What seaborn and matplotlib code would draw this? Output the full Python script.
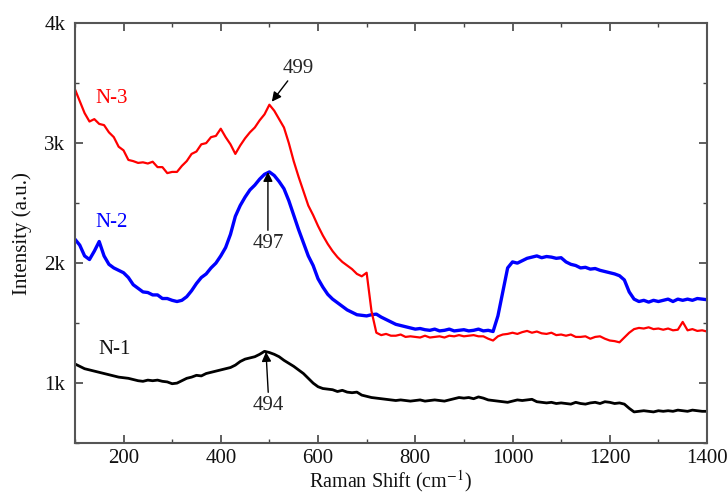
import numpy as np
import pandas as pd
import matplotlib
matplotlib.use("Agg")
import matplotlib.pyplot as plt
import seaborn as sns

# ---------------- data ----------------
raman_shift = list(range(100, 1401, 10))

n3_intensity = [
    3450, 3350, 3250, 3180, 3200, 3160, 3150, 3090, 3050, 2970,   # 100-190
    2940, 2860, 2850, 2835, 2840, 2830, 2845, 2800, 2800, 2750,   # 200-290
    2760, 2760, 2810, 2850, 2910, 2930, 2990, 3000, 3050, 3060,   # 300-390
    3120, 3050, 2990, 2910, 2980, 3040, 3090, 3130, 3190, 3240,   # 400-490
    3320, 3270, 3200, 3130, 3000, 2850, 2720, 2600, 2480, 2400,   # 500-590
    2310, 2230, 2160, 2100, 2050, 2010, 1980, 1950, 1910, 1890,   # 600-690
    1920, 1600, 1420, 1400, 1410, 1395, 1395, 1405, 1385, 1390,   # 700-790
    1385, 1380, 1395, 1380, 1385, 1390, 1380, 1395, 1390, 1400,   # 800-890
    1390, 1395, 1400, 1390, 1390, 1370, 1355, 1390, 1405, 1410,   # 900-990
    1420, 1410, 1425, 1435, 1420, 1430, 1415, 1410, 1420, 1400,   # 1000-1090
    1405, 1395, 1405, 1385, 1385, 1390, 1370, 1385, 1390, 1370,   # 1100-1190
    1355, 1350, 1340, 1380, 1420, 1450, 1460, 1455, 1465, 1450,   # 1200-1290
    1455, 1445, 1455, 1440, 1445, 1510, 1440, 1450, 1435, 1440,   # 1300-1390
    1430,                                                         # 1400
]

n2_intensity = [
    2200, 2150, 2060, 2030, 2100, 2180, 2060, 1990, 1960, 1940,   # 100-190
    1920, 1880, 1820, 1790, 1760, 1755, 1735, 1735, 1705, 1705,   # 200-290
    1690, 1680, 1690, 1720, 1770, 1830, 1880, 1910, 1960, 2000,   # 300-390
    2060, 2130, 2240, 2390, 2480, 2550, 2610, 2650, 2700, 2740,   # 400-490
    2760, 2730, 2680, 2620, 2520, 2400, 2280, 2170, 2060, 1980,   # 500-590
    1870, 1800, 1740, 1700, 1670, 1640, 1610, 1590, 1570, 1565,   # 600-690
    1560, 1570, 1575, 1550, 1530, 1510, 1490, 1480, 1470, 1460,   # 700-790
    1450, 1455, 1445, 1440, 1450, 1435, 1440, 1450, 1435, 1440,   # 800-890
    1445, 1435, 1440, 1450, 1435, 1440, 1430, 1560, 1760, 1960,   # 900-990
    2010, 2000, 2020, 2040, 2050, 2060, 2045, 2055, 2050, 2040,   # 1000-1090
    2045, 2010, 1990, 1980, 1960, 1965, 1950, 1955, 1940, 1930,   # 1100-1190
    1920, 1910, 1895, 1860, 1760, 1700, 1680, 1690, 1675, 1690,   # 1200-1290
    1680, 1690, 1700, 1680, 1700, 1690, 1700, 1690, 1705, 1700,   # 1300-1390
    1695,                                                         # 1400
]

n1_intensity = [
    1160, 1140, 1120, 1110, 1100, 1090, 1080, 1070, 1060, 1050,   # 100-190
    1045, 1040, 1030, 1020, 1015, 1025, 1020, 1025, 1015, 1010,   # 200-290
    995, 1000, 1020, 1040, 1050, 1065, 1060, 1080, 1090, 1100,    # 300-390
    1110, 1120, 1130, 1150, 1180, 1200, 1210, 1220, 1240, 1265,   # 400-490
    1255, 1240, 1220, 1190, 1165, 1140, 1110, 1080, 1040, 1000,   # 500-590
    970, 955, 950, 945, 930, 940, 925, 920, 925, 900,             # 600-690
    890, 880, 875, 870, 865, 860, 855, 860, 855, 850,             # 700-790
    855, 860, 850, 855, 860, 855, 850, 860, 870, 880,             # 800-890
    875, 880, 870, 885, 875, 860, 855, 850, 845, 840,             # 900-990
    850, 860, 855, 860, 865, 845, 840, 835, 840, 830,             # 1000-1090
    835, 830, 825, 840, 830, 825, 835, 840, 830, 845,             # 1100-1190
    840, 830, 835, 825, 790, 760, 765, 770, 765, 760,             # 1200-1290
    770, 765, 770, 765, 775, 770, 765, 775, 770, 765,             # 1300-1390
    765,                                                          # 1400
]

series_names = ["N-1", "N-2", "N-3"]
series_colors = {"N-1": "#000000", "N-2": "#0000ff", "N-3": "#ff0000"}

x_ticks = [200, 400, 600, 800, 1000, 1200, 1400]
y_ticks = [1000, 2000, 3000, 4000]
y_tick_labels = ["1k", "2k", "3k", "4k"]

# ---------------- plotting ----------------
sns.set_theme(style="ticks")
plt.rcParams["font.family"] = ["Liberation Serif", "DejaVu Serif"]
plt.rcParams["mathtext.fontset"] = "stix"

fig = plt.figure(figsize=(7.27, 4.94), dpi=100)
ax = fig.add_axes([0.103, 0.103, 0.8695, 0.8502])

df = pd.DataFrame({
    "shift": raman_shift * 3,
    "intensity": n1_intensity + n2_intensity + n3_intensity,
    "sample": ["N-1"] * len(raman_shift) + ["N-2"] * len(raman_shift) + ["N-3"] * len(raman_shift),
})

widths = {"N-1": 2.0, "N-2": 2.4, "N-3": 1.6}
for name in series_names:
    sub = df[df["sample"] == name]
    sns.lineplot(data=sub, x="shift", y="intensity", ax=ax, color=series_colors[name],
                 linewidth=widths[name], legend=False)

ax.set_xlim(100, 1400)
ax.set_ylim(500, 4000)
ax.set_xticks(x_ticks)
ax.set_xticks(list(range(100, 1401, 100)), minor=True)
ax.set_yticks(y_ticks)
ax.set_yticklabels(y_tick_labels)
ax.set_yticks([500, 1500, 2500, 3500], minor=True)

fs = 15
ax.tick_params(which="both", direction="in", top=True, right=True, labelsize=fs,
               color="#444444", labelcolor="#111111")
ax.tick_params(which="major", length=6, width=1.2, pad=7)
ax.tick_params(axis="x", which="major", pad=4)
ax.tick_params(which="minor", length=3, width=1.0)
for sp in ax.spines.values():
    sp.set_color("#555555")
    sp.set_linewidth(1.5)

ax.set_xlabel(r"Raman Shift (cm$^{-1}$)", fontsize=14.5, color="#111111", labelpad=0)
ax.set_ylabel("Intensity (a.u.)", fontsize=fs, color="#111111", labelpad=9)

# sample labels
ax.text(176, 3375, "N-3", color="#ff0000", fontsize=fs, ha="center", va="center")
ax.text(176, 2342, "N-2", color="#0000ff", fontsize=fs, ha="center", va="center")
ax.text(182, 1283, "N-1", color="#111111", fontsize=fs, ha="center", va="center")

# peak annotations
arrow = dict(arrowstyle="-|>", color="black", lw=1.0, mutation_scale=14, shrinkA=0, shrinkB=0)
ax.annotate("499", xy=(505, 3345), xytext=(559, 3625), fontsize=fs, ha="center", va="center",
            arrowprops=dict(arrow, relpos=(0.25, 0.0)))
ax.annotate("497", xy=(497, 2760), xytext=(497, 2167), fontsize=fs, ha="center", va="center",
            arrowprops=dict(arrow, relpos=(0.5, 1.0)))
ax.annotate("494", xy=(493, 1260), xytext=(498, 817), fontsize=fs, ha="center", va="center",
            arrowprops=dict(arrow, relpos=(0.5, 1.0)))

fig.savefig("out.png", dpi=100)
